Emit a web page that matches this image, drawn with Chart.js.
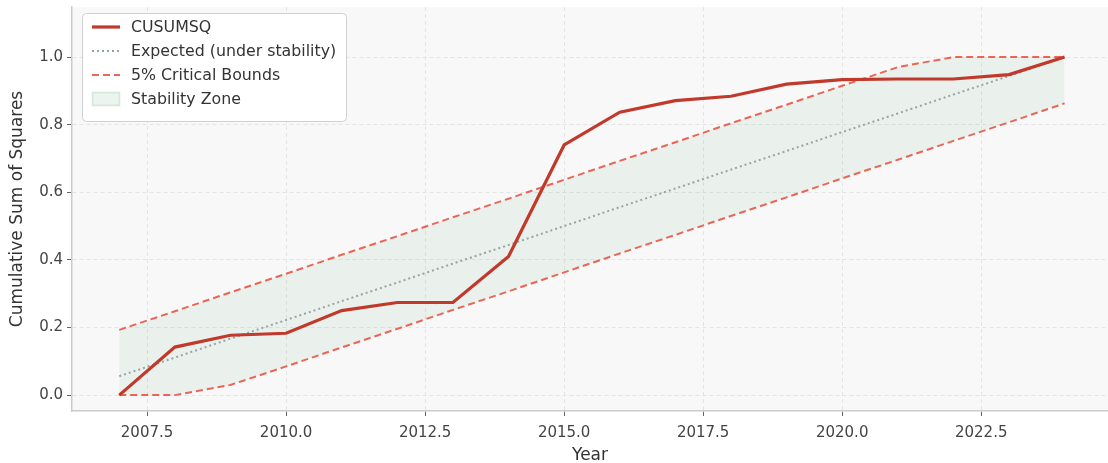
<!DOCTYPE html>
<html>
<head>
<meta charset="utf-8">
<script src="https://cdn.jsdelivr.net/npm/chart.js@4"></script>
<style>
  html, body { margin: 0; padding: 0; background: #fff; }
  #wrap { width: 1108px; height: 463px; position: relative; }
</style>
</head>
<body>
<div id="wrap"><canvas id="chart"></canvas></div>
<script>
// years and CUSUMSQ values
const years = [2007, 2008, 2009, 2010, 2011, 2012, 2013, 2014, 2015, 2016, 2017, 2018, 2019, 2020, 2021, 2022, 2023, 2024];
const cusumsq = [0, 0.142, 0.177, 0.183, 0.25, 0.274, 0.274, 0.41, 0.74, 0.837, 0.871, 0.884, 0.92, 0.933, 0.935, 0.935, 0.948, 1.0];
const expected = [0.056, 0.111, 0.167, 0.222, 0.278, 0.333, 0.389, 0.444, 0.5, 0.556, 0.611, 0.667, 0.722, 0.778, 0.833, 0.889, 0.944, 1.0];
const upperBound = [0.193, 0.248, 0.304, 0.359, 0.415, 0.47, 0.526, 0.581, 0.637, 0.693, 0.748, 0.804, 0.859, 0.915, 0.97, 1.0, 1.0, 1.0];
const lowerBound = [0, 0, 0.03, 0.085, 0.141, 0.196, 0.252, 0.307, 0.363, 0.419, 0.474, 0.53, 0.585, 0.641, 0.696, 0.752, 0.807, 0.863];
const xTicks = [2007.5, 2010.0, 2012.5, 2015.0, 2017.5, 2020.0, 2022.5];
const yTicks = [0.0, 0.2, 0.4, 0.6, 0.8, 1.0];

const FONT = "'DejaVu Sans', sans-serif";
const toPoints = vals => years.map((yr, i) => ({x: yr, y: vals[i]}));

// grey-ish plot background
const plotBackground = {
  id: 'plotBackground',
  beforeDraw(chart) {
    const {ctx, chartArea: a} = chart;
    ctx.save();
    ctx.fillStyle = '#f8f8f8';
    ctx.fillRect(a.left, a.top, a.right - a.left, a.bottom - a.top);
    ctx.restore();
  }
};

// legend box in the upper left corner, like the matplotlib one
const legendBox = {
  id: 'legendBox',
  afterDraw(chart) {
    const ctx = chart.ctx;
    const x = 82, y = 13, w = 264, h = 108;
    ctx.save();
    ctx.fillStyle = 'rgba(255,255,255,0.9)';
    ctx.strokeStyle = '#d0d0d0';
    ctx.lineWidth = 1;
    ctx.beginPath();
    ctx.roundRect(x + 0.5, y + 0.5, w, h, 4);
    ctx.fill();
    ctx.stroke();

    const items = [
      {label: chart.data.datasets[0].label, ds: chart.data.datasets[0]},
      {label: chart.data.datasets[1].label, ds: chart.data.datasets[1]},
      {label: chart.data.datasets[2].label, ds: chart.data.datasets[2]},
      {label: chart.data.datasets[4].label, ds: chart.data.datasets[4], box: true}
    ];
    ctx.font = '15.8px ' + FONT;
    ctx.textBaseline = 'middle';
    items.forEach((it, i) => {
      const cy = y + 14 + i * 24;
      if (it.box) {
        ctx.fillStyle = 'rgba(60,150,90,0.10)';
        ctx.strokeStyle = 'rgba(60,150,90,0.12)';
        ctx.fillRect(92, cy - 7, 28, 14);
        ctx.strokeRect(92.5, cy - 6.5, 27, 13);
      } else {
        ctx.strokeStyle = it.ds.borderColor;
        ctx.lineWidth = it.ds.borderWidth;
        ctx.setLineDash(it.ds.borderDash || []);
        ctx.beginPath();
        ctx.moveTo(92, cy);
        ctx.lineTo(120, cy);
        ctx.stroke();
        ctx.setLineDash([]);
      }
      ctx.fillStyle = '#333';
      ctx.fillText(it.label, 131, cy + 1);
    });
    ctx.restore();
  }
};

new Chart(document.getElementById('chart'), {
  type: 'line',
  data: {
    datasets: [
      {
        label: 'CUSUMSQ',
        data: toPoints(cusumsq),
        borderColor: '#c0392b',
        borderWidth: 3.2,
        pointRadius: 0,
        tension: 0
      },
      {
        label: 'Expected (under stability)',
        data: toPoints(expected),
        borderColor: '#95a5a6',
        borderWidth: 2,
        borderDash: [2, 3],
        pointRadius: 0
      },
      {
        label: '5% Critical Bounds',
        data: toPoints(upperBound),
        borderColor: 'rgba(231,76,60,0.85)',
        borderWidth: 2,
        borderDash: [7, 4],
        pointRadius: 0
      },
      {
        label: 'lower bound',
        data: toPoints(lowerBound),
        borderColor: 'rgba(231,76,60,0.85)',
        borderWidth: 2,
        borderDash: [7, 4],
        pointRadius: 0
      },
      {
        label: 'Stability Zone',
        data: toPoints(upperBound),
        borderWidth: 0,
        borderColor: 'rgba(0,0,0,0)',
        backgroundColor: 'rgba(60,150,90,0.07)',
        pointRadius: 0,
        fill: 3
      }
    ]
  },
  options: {
    responsive: true,
    maintainAspectRatio: false,
    animation: false,
    layout: {padding: {top: 7, right: 0, left: 0, bottom: 0}},
    plugins: {
      legend: {display: false},
      tooltip: {enabled: false}
    },
    scales: {
      x: {
        type: 'linear',
        min: 2006.15,
        max: 2024.78,
        afterBuildTicks: s => { s.ticks = xTicks.map(v => ({value: v})); },
        afterFit: s => { s.height = 52; s.paddingLeft = 0; s.paddingRight = 0; },
        ticks: {
          color: '#444',
          font: {family: FONT, size: 15},
          padding: 8,
          maxRotation: 0,
          callback: v => v.toFixed(1)
        },
        grid: {color: '#e4e4e4', tickLength: 5, tickColor: '#666', tickWidth: 1},
        border: {color: '#cccccc', width: 1.5, dash: [4, 3]},
        title: {display: true, text: 'Year', color: '#333', font: {family: FONT, size: 17}, padding: {top: 0, bottom: -3}}
      },
      y: {
        min: -0.047,
        max: 1.148,
        afterBuildTicks: s => { s.ticks = yTicks.map(v => ({value: v})); },
        afterFit: s => { s.width = 72; s.paddingTop = 0; s.paddingBottom = 0; },
        ticks: {
          color: '#444',
          font: {family: FONT, size: 15},
          padding: 4,
          callback: v => v.toFixed(1)
        },
        grid: {color: '#e4e4e4', tickLength: 5, tickColor: '#666', tickWidth: 1},
        border: {color: '#cccccc', width: 1.5, dash: [4, 3]},
        title: {display: true, text: 'Cumulative Sum of Squares', color: '#333', font: {family: FONT, size: 17}, padding: {top: 7, bottom: 0}}
      }
    }
  },
  plugins: [plotBackground, legendBox]
});
</script>
</body>
</html>
